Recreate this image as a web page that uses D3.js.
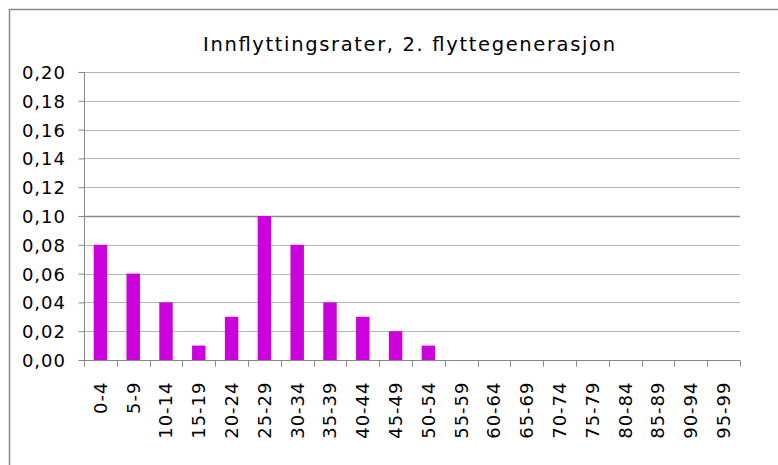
<!DOCTYPE html>
<html>
<head>
<meta charset="utf-8">
<script src="https://cdn.jsdelivr.net/npm/d3@7"></script>
<style>
  body { margin: 0; background: #fff; }
  text { font-family: "DejaVu Sans", Verdana, sans-serif; fill: #000; }
</style>
</head>
<body>
<script>
// chart data
let ageGroups = ["0-4", "5-9", "10-14", "15-19", "20-24", "25-29", "30-34", "35-39", "40-44", "45-49",
  "50-54", "55-59", "60-64", "65-69", "70-74", "75-79", "80-84", "85-89", "90-94", "95-99"];
let rates = [0.08, 0.06, 0.04, 0.01, 0.03, 0.10, 0.08, 0.04, 0.03, 0.02,
  0.01, 0, 0, 0, 0, 0, 0, 0, 0, 0];
let yTicks = [0, 0.02, 0.04, 0.06, 0.08, 0.10, 0.12, 0.14, 0.16, 0.18, 0.20];
let title = "Innflyttingsrater, 2. flyttegenerasjon";

let svg = d3.select('body')
  .append('svg')
  .attr('width', 778)
  .attr('height', 465);

// chart area frame (only left and top edges visible)
svg.append('path')
  .attr('d', 'M9.5,465 V9.5 H778')
  .attr('fill', 'none')
  .attr('stroke', '#888')
  .attr('stroke-width', 1.5);

let plot = { left: 84, right: 740, top: 72, bottom: 360 };

let xScale = d3.scaleBand()
  .domain(ageGroups)
  .range([plot.left, plot.right]);

let yScale = d3.scaleLinear()
  .domain([0, 0.20])
  .range([plot.bottom, plot.top]);

// gridlines
svg.append('g')
  .selectAll('line')
  .data(yTicks.slice(1))
  .enter()
  .append('line')
  .attr('x1', plot.left)
  .attr('x2', plot.right)
  .attr('y1', (d) => Math.round(yScale(d)) + 0.5)
  .attr('y2', (d) => Math.round(yScale(d)) + 0.5)
  .attr('stroke', (d) => d === 0.10 ? '#8c8c8c' : '#b4b4b4')
  .attr('stroke-width', (d) => d === 0.10 ? 1.5 : 1);

// bars
let barW = xScale.bandwidth() * 0.41;
svg.selectAll('.bar')
  .data(rates)
  .enter()
  .append('rect')
  .attr('class', 'bar')
  .attr('x', (d, i) => xScale(ageGroups[i]) + (xScale.bandwidth() - barW) / 2)
  .attr('y', (d) => yScale(d))
  .attr('width', barW)
  .attr('height', (d) => plot.bottom - yScale(d))
  .attr('fill', '#cc00dd');

// y axis
let yAxis = d3.axisLeft(yScale)
  .tickValues(yTicks)
  .tickSize(6)
  .tickPadding(12.5)
  .tickFormat((d) => d3.format('.2f')(d).replace('.', ','));
let yg = svg.append('g')
  .attr('transform', 'translate(' + (plot.left + 0.5) + ',0)')
  .call(yAxis);
yg.select('.domain').attr('stroke', '#888').attr('d', 'M-0.0,' + plot.top + 'V' + (plot.bottom + 6));
yg.selectAll('.tick line').attr('stroke', '#888');
yg.selectAll('text')
  .style('font-size', '18px')
  .style('letter-spacing', '1px')
  .attr('dy', '0.36em');

// x axis
let xAxis = d3.axisBottom(xScale)
  .tickSize(0)
  .tickPadding(0);
let xg = svg.append('g')
  .attr('transform', 'translate(0,' + (plot.bottom + 0.5) + ')')
  .call(xAxis);
xg.select('.domain').attr('stroke', '#888').attr('d', 'M' + plot.left + ',0H' + plot.right);
xg.selectAll('.tick line').remove();
xg.selectAll('.tick text')
  .style('font-size', '18px')
  .style('letter-spacing', '1px')
  .style('text-anchor', 'end')
  .attr('x', -21)
  .attr('y', 0)
  .attr('dy', '0.36em')
  .attr('transform', 'rotate(-90)');

// boundary ticks between categories
xg.selectAll('.sep')
  .data(ageGroups.concat(['end']))
  .enter()
  .append('line')
  .attr('x1', (d, i) => Math.round(plot.left + i * xScale.step()) + 0.5)
  .attr('x2', (d, i) => Math.round(plot.left + i * xScale.step()) + 0.5)
  .attr('y1', 0)
  .attr('y2', 6)
  .attr('stroke', '#888');

// title
svg.append('text')
  .attr('x', 409)
  .attr('y', 51)
  .attr('text-anchor', 'middle')
  .attr('textLength', 412)
  .attr('lengthAdjust', 'spacing')
  .style('font-size', '19.5px')
  .text(title);
</script>
</body>
</html>
